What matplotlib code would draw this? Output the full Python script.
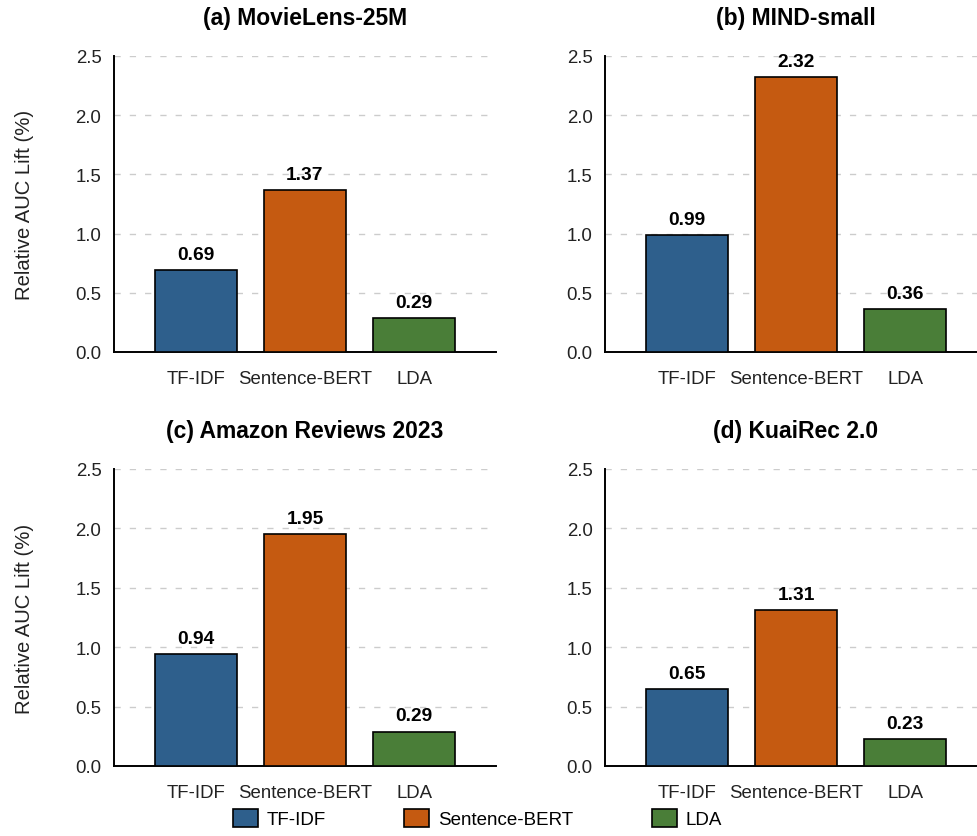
import matplotlib
matplotlib.use("Agg")
from matplotlib import pyplot as plt
from matplotlib.patches import Patch
import numpy as np

plt.rcParams['font.family'] = ['Liberation Sans', 'DejaVu Sans']

# Data
methods = ["TF-IDF", "Sentence-BERT", "LDA"]
colors = ["#2E5F8C", "#C55A11", "#4A7E38"]
titles = ["(a) MovieLens-25M", "(b) MIND-small", "(c) Amazon Reviews 2023", "(d) KuaiRec 2.0"]
movielens = [0.69, 1.37, 0.29]
mind = [0.99, 2.32, 0.36]
amazon = [0.94, 1.95, 0.29]
kuairec = [0.65, 1.31, 0.23]
yticks = [0.0, 0.5, 1.0, 1.5, 2.0, 2.5]

panels = [movielens, mind, amazon, kuairec]

fig = plt.figure(figsize=(9.78, 8.37), dpi=100)
W, H = 978.0, 837.0

# axes boxes in pixels: left, top, right, bottom
boxes = [(114, 57, 496, 353), (605, 57, 987, 353),
         (114, 470, 496, 767), (605, 470, 987, 767)]

x = np.arange(len(methods))
for i, (vals, title) in enumerate(zip(panels, titles)):
    l, t, r, b = boxes[i]
    ax = fig.add_axes([l / W, 1 - b / H, (r - l) / W, (b - t) / H])
    ax.bar(x, vals, width=0.75, color=colors, edgecolor='black', linewidth=1.2, zorder=3)
    for xi, v in zip(x, vals):
        ax.text(xi, v + 0.06, f"{v:.2f}", ha='center', va='bottom',
                fontsize=13.8, fontweight='bold', zorder=4)
    ax.set_xlim(-0.75, 2.75)
    ax.set_ylim(0, 2.5)
    ax.set_yticks(yticks)
    ax.set_yticklabels([f"{v:.1f}" for v in yticks])
    ax.set_xticks(x)
    ax.set_xticklabels(methods)
    ax.tick_params(axis='both', length=0, labelsize=13.4, colors='#222222')
    ax.tick_params(axis='x', pad=13)
    ax.tick_params(axis='y', pad=9)
    ax.yaxis.grid(True, color='#cccccc', linestyle=(0, (4.5, 6.5)), linewidth=1.0, zorder=0)
    ax.set_axisbelow(True)
    for s in ['top', 'right']:
        ax.spines[s].set_visible(False)
    for s in ['left', 'bottom']:
        ax.spines[s].set_linewidth(1.4)
        ax.spines[s].set_color('black')
    ax.set_title(title, fontsize=16.5, fontweight='bold', pad=23)
    if i % 2 == 0:
        ax.set_ylabel("Relative AUC Lift (%)", fontsize=14.6, labelpad=30, color='#222222')

handles = [Patch(facecolor=c, edgecolor='black', linewidth=1.2) for c in colors]
fig.legend(handles, methods, loc='center', bbox_to_anchor=(0.488, 0.021), ncol=3,
           frameon=False, fontsize=13.5, handlelength=1.33, handleheight=1.1,
           handletextpad=0.45, columnspacing=4.2)

fig.savefig("out.png", dpi=100, facecolor='white')
